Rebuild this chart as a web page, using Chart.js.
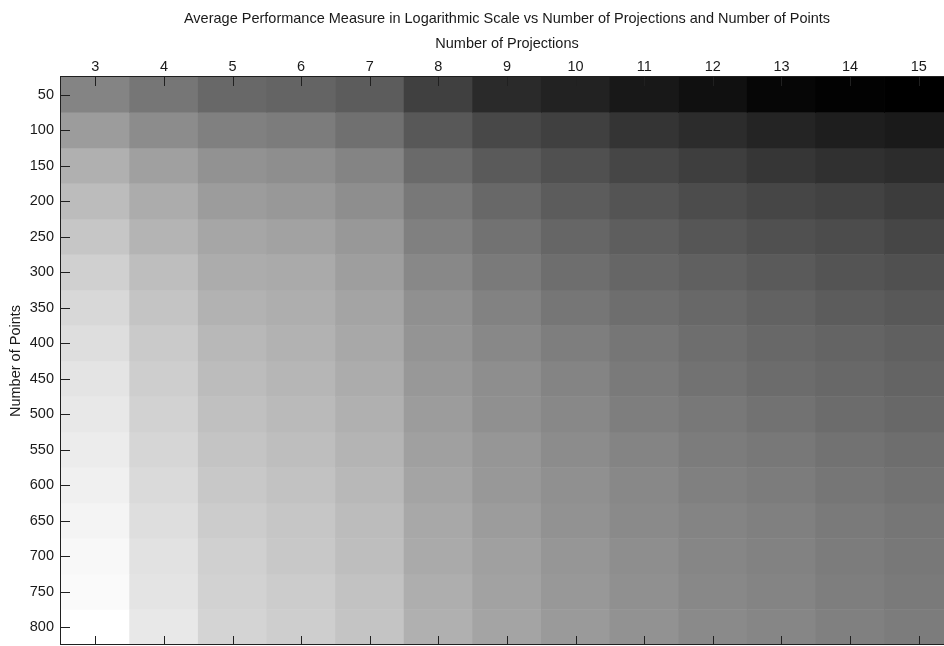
<!DOCTYPE html>
<html>
<head>
<meta charset="utf-8">
<script src="https://cdn.jsdelivr.net/npm/chart.js@4.4.1/dist/chart.umd.min.js"></script>
<style>
  html, body { margin: 0; padding: 0; background: #fff; overflow: hidden; }
  #wrap { width: 955px; height: 646px; }
</style>
</head>
<body>
<div id="wrap"><canvas id="heatmap"></canvas></div>
<script>
// Number of projections (columns) and number of points (rows)
const projections = ['3', '4', '5', '6', '7', '8', '9', '10', '11', '12', '13', '14', '15'];
const numPoints = ['50', '100', '150', '200', '250', '300', '350', '400', '450', '500', '550', '600', '650', '700', '750', '800'];

const row50  = [132, 118, 104, 100, 92, 64, 42, 34, 24, 16, 6, 2, 0];
const row100 = [156, 140, 128, 124, 112, 88, 72, 64, 52, 44, 36, 30, 26];
const row150 = [176, 160, 146, 142, 132, 106, 90, 80, 70, 62, 54, 48, 44];
const row200 = [188, 172, 156, 152, 142, 120, 104, 92, 84, 76, 70, 66, 60];
const row250 = [198, 180, 166, 162, 152, 128, 114, 102, 94, 86, 80, 76, 70];
const row300 = [208, 190, 172, 170, 158, 136, 122, 110, 102, 96, 90, 84, 80];
const row350 = [216, 196, 178, 174, 164, 144, 130, 118, 110, 104, 98, 92, 88];
const row400 = [222, 202, 184, 178, 168, 148, 136, 126, 118, 110, 104, 100, 96];
const row450 = [228, 206, 188, 182, 172, 152, 142, 132, 122, 114, 108, 104, 100];
const row500 = [232, 210, 192, 186, 176, 156, 144, 136, 126, 120, 114, 108, 104];
const row550 = [236, 214, 196, 190, 180, 160, 150, 140, 132, 124, 120, 114, 110];
const row600 = [240, 218, 200, 194, 184, 164, 152, 144, 136, 128, 124, 118, 114];
const row650 = [244, 222, 204, 198, 188, 168, 156, 146, 138, 132, 128, 122, 118];
const row700 = [248, 226, 208, 200, 190, 170, 160, 150, 142, 134, 130, 124, 120];
const row750 = [250, 228, 210, 204, 194, 174, 162, 152, 144, 136, 132, 126, 122];
const row800 = [255, 232, 212, 206, 196, 176, 164, 154, 146, 138, 134, 128, 124];

const measure = [row50, row100, row150, row200, row250, row300, row350, row400,
                 row450, row500, row550, row600, row650, row700, row750, row800];

const gray = v => `rgb(${v}, ${v}, ${v})`;

// each row is one dataset, stacked one cell high
const datasets = measure.map((row, i) => ({
    label: numPoints[i],
    data: row.map(() => 1),
    backgroundColor: row.map(gray),
    borderWidth: 0,
    barPercentage: 1,
    categoryPercentage: 1
}));

// black tick marks pointing into the plot and the box around it
const frameTicks = {
    id: 'frameTicks',
    afterDraw(chart) {
        const { ctx, chartArea: a, scales: { x, y } } = chart;
        ctx.save();
        ctx.strokeStyle = '#202020';
        ctx.lineWidth = 1;
        ctx.strokeRect(a.left - 0.5, a.top - 0.5, a.right - a.left + 1, a.bottom - a.top);
        ctx.beginPath();
        projections.forEach((p, i) => {
            const px = Math.round(x.getPixelForValue(i)) + 0.5;
            ctx.moveTo(px, a.top);
            ctx.lineTo(px, a.top + 9);
            ctx.moveTo(px, a.bottom);
            ctx.lineTo(px, a.bottom - 9);
        });
        numPoints.forEach((p, i) => {
            const py = Math.round(y.getPixelForValue(i + 0.5)) + 0.5;
            ctx.moveTo(a.left, py);
            ctx.lineTo(a.left + 9, py);
        });
        ctx.stroke();
        ctx.restore();
    }
};

Chart.defaults.font.family = "'Liberation Sans', Arial, sans-serif";
Chart.defaults.font.size = 14.5;
Chart.defaults.color = '#1a1a1a';

new Chart(document.getElementById('heatmap'), {
    type: 'bar',
    data: { labels: projections, datasets: datasets },
    options: {
        responsive: true,
        maintainAspectRatio: false,
        animation: false,
        layout: { padding: { top: 0, left: 0, right: 2, bottom: 1 } },
        plugins: {
            legend: { display: false },
            tooltip: { enabled: false },
            title: {
                display: true,
                fullSize: false,
                text: 'Average Performance Measure in Logarithmic Scale vs Number of Projections and Number of Points',
                font: { size: 14.5, weight: 'normal' },
                padding: { top: 10, bottom: 4.3 }
            }
        },
        scales: {
            x: {
                type: 'category',
                position: 'top',
                stacked: true,
                grid: { display: false, drawTicks: false },
                border: { display: false },
                ticks: { padding: 1.3, maxRotation: 0 },
                title: { display: true, text: 'Number of Projections', padding: { top: 3.6, bottom: 0 } },
                afterFit: scale => {
                    scale.height = 45.3;
                    scale.paddingLeft = 0;
                    scale.paddingRight = 0;
                }
            },
            y: {
                type: 'linear',
                stacked: true,
                reverse: true,
                min: 0,
                max: numPoints.length,
                grid: { display: false, drawTicks: false },
                border: { display: false },
                afterBuildTicks: scale => {
                    scale.ticks = numPoints.map((p, i) => ({ value: i + 0.5 }));
                },
                ticks: {
                    padding: 7,
                    callback: (value, index) => numPoints[index]
                },
                title: { display: true, text: 'Number of Points', padding: { top: 7.3, bottom: 0 } },
                afterFit: scale => {
                    scale.width = 61;
                    scale.paddingTop = 0;
                    scale.paddingBottom = 0;
                }
            }
        }
    },
    plugins: [frameTicks]
});
</script>
</body>
</html>
